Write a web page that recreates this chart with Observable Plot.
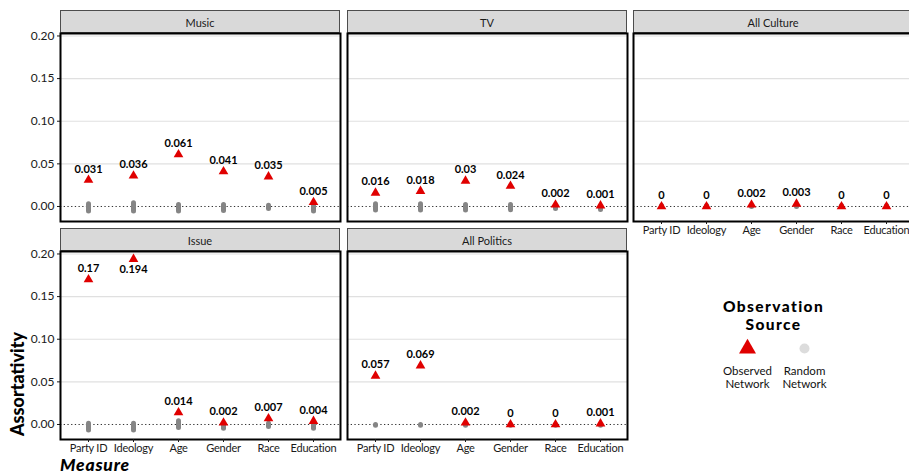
<!DOCTYPE html>
<html>
<head>
<meta charset="utf-8">
<script src="https://cdn.jsdelivr.net/npm/d3@7"></script>
<script src="https://cdn.jsdelivr.net/npm/@observablehq/plot@0.6"></script>
<style>
  html, body { margin: 0; padding: 0; background: #fff; }
  #chart { position: relative; width: 909px; height: 473px; overflow: hidden; font-family: Lato, sans-serif; }
  #chart > svg, #chart > div { position: absolute; }
  .xax text { letter-spacing: -0.25px; }
</style>
</head>
<body>
<div id="chart"></div>
<script>
// ---- data ----
const measures = ["Party ID", "Ideology", "Age", "Gender", "Race", "Education"];
const panelNames = ["Music", "TV", "All Culture", "Issue", "All Politics"];
const yTicks = [0, 0.05, 0.10, 0.15, 0.20];
const sources = ["Observed\nNetwork", "Random\nNetwork"];

// observed assortativity
const musicObserved = [0.031, 0.036, 0.061, 0.041, 0.035, 0.005];
const tvObserved = [0.016, 0.018, 0.03, 0.024, 0.002, 0.001];
const allCultureObserved = [0, 0, 0.002, 0.003, 0, 0];
const issueObserved = [0.17, 0.194, 0.014, 0.002, 0.007, 0.004];
const allPoliticsObserved = [0.057, 0.069, 0.002, 0, 0, 0.001];

// random-network spread (low / high)
const musicRandomLow = [-0.006, -0.006, -0.006, -0.0053, -0.003, -0.006];
const musicRandomHigh = [0.0026, 0.0038, 0.0018, 0.0018, 0.001, 0.001];
const tvRandomLow = [-0.0048, -0.0048, -0.0048, -0.0044, -0.003, -0.004];
const tvRandomHigh = [0.0026, 0.0026, 0.0018, 0.0018, -0.001, -0.001];
const allCultureRandomLow = [-0.0005, -0.0005, -0.0005, -0.0005, -0.0005, -0.0005];
const allCultureRandomHigh = [0.0005, 0.0005, 0.0005, 0.0005, 0.0005, 0.0005];
const issueRandomLow = [-0.0069, -0.0069, -0.004, -0.005, -0.003, -0.005];
const issueRandomHigh = [0.001, 0.001, 0.0037, -0.001, 0.001, -0.001];
const allPoliticsRandomLow = [-0.0015, -0.0015, -0.0015, -0.0015, -0.0015, -0.0015];
const allPoliticsRandomHigh = [-0.0006, -0.0006, -0.0006, -0.0006, -0.0006, -0.0006];

const chart = document.getElementById("chart");
const RED = "#e00000";
const GREY = "#858585";

function panel(name, observed, low, high, opts) {
  const ml = opts.showY ? 60 : 0;
  const mb = opts.showX ? 40 : 0;
  const data = measures.map((m, i) => ({measure: m, value: observed[i], lo: low[i], hi: high[i]}));
  const svg = Plot.plot({
    width: 280 + ml,
    height: 23 + 188 + mb,
    marginTop: 23,
    marginLeft: ml,
    marginRight: 0,
    marginBottom: mb,
    style: {fontFamily: "Lato, sans-serif", fontSize: "12px", color: "#1a1a1a", background: "transparent", overflow: "visible"},
    x: {type: "point", domain: measures, padding: 0.6, axis: null},
    y: {domain: [-0.0176, 0.2029], axis: opts.showY ? "left" : null, ticks: yTicks, tickFormat: d3.format(".2f"), tickSize: 3, tickPadding: 3, label: null},
    marks: [
      Plot.ruleY(yTicks.filter(d => d !== 0), {stroke: "#e0e0e0", strokeWidth: 1.1}),
      Plot.ruleY([0], {stroke: "#333", strokeWidth: 1, strokeDasharray: "1.3,2.4"}),
      Plot.ruleX(data, {x: "measure", y1: "lo", y2: "hi", stroke: GREY, strokeWidth: 5, strokeLinecap: "round"}),
      Plot.dot(data, {x: "measure", y: "value", symbol: "triangle", r: 3.6, fill: RED, stroke: null}),
      Plot.text(data.filter(d => d.value <= 0.18), {x: "measure", y: "value", text: d => String(d.value), dy: -11, fontWeight: "bold", fontSize: 11, fill: "#000"}),
      Plot.text(data.filter(d => d.value > 0.18), {x: "measure", y: "value", text: d => String(d.value), dy: 10, fontWeight: "bold", fontSize: 11, fill: "#000"}),
      Plot.frame({stroke: "#000", strokeWidth: 2}),
      opts.showX ? Plot.axisX({tickSize: 3, tickPadding: 2, label: null, fontSize: 11, className: "xax"}) : null
    ]
  });
  // facet strip
  const g = d3.select(svg).insert("g", ":first-child");
  g.append("rect")
    .attr("x", ml + 0.5).attr("y", 0.5).attr("width", 279).attr("height", 22)
    .attr("fill", "#d9d9d9").attr("stroke", "#4d4d4d").attr("stroke-width", 1);
  d3.select(svg).append("text")
    .attr("x", ml + 140).attr("y", 12.5)
    .attr("text-anchor", "middle").attr("dominant-baseline", "central")
    .attr("font-size", 11).attr("fill", "#1a1a1a").attr("font-family", "Lato, sans-serif")
    .text(name);
  svg.style.left = (opts.left - ml) + "px";
  svg.style.top = opts.top + "px";
  chart.appendChild(svg);
}

panel(panelNames[0], musicObserved, musicRandomLow, musicRandomHigh, {left: 60, top: 10, showY: true, showX: false});
panel(panelNames[1], tvObserved, tvRandomLow, tvRandomHigh, {left: 347, top: 10, showY: false, showX: false});
panel(panelNames[2], allCultureObserved, allCultureRandomLow, allCultureRandomHigh, {left: 633, top: 10, showY: false, showX: true});
panel(panelNames[3], issueObserved, issueRandomLow, issueRandomHigh, {left: 60, top: 227.5, showY: true, showX: true});
panel(panelNames[4], allPoliticsObserved, allPoliticsRandomLow, allPoliticsRandomHigh, {left: 347, top: 227.5, showY: false, showX: true});

// legend
const legend = Plot.plot({
  width: 200, height: 110, margin: 0,
  style: {fontFamily: "Lato, sans-serif", color: "#000", background: "transparent", overflow: "visible"},
  x: {type: "point", domain: sources, range: [73.7, 131], padding: 0, axis: null},
  marks: [
    Plot.text(["Observation\nSource"], {frameAnchor: "top", dy: 24.7, lineAnchor: "middle", lineHeight: 1.16, fontSize: 15.5, fontWeight: 900, fill: "#000"}),
    Plot.dot([sources[0]], {x: d => d, frameAnchor: "top", dy: 58, symbol: "triangle", r: 6.3, fill: RED, stroke: null}),
    Plot.dot([sources[1]], {x: d => d, frameAnchor: "top", dy: 58, symbol: "circle", r: 5, fill: "#dcdcdc", stroke: null}),
    Plot.text(sources, {x: d => d, text: d => d, frameAnchor: "top", dy: 87, lineAnchor: "middle", lineHeight: 1.06, fontSize: 11.5, fill: "#111"})
  ]
});
legend.querySelectorAll("text").forEach(t => { if (t.textContent.startsWith("Observation")) t.style.letterSpacing = "1.4px"; });
legend.style.left = "673px";
legend.style.top = "290px";
chart.appendChild(legend);

// axis titles
const titles = d3.select(chart).append("svg")
  .attr("width", 909).attr("height", 473)
  .style("left", "0px").style("top", "0px").style("pointer-events", "none");
titles.append("text")
  .attr("transform", "translate(24,384) rotate(-90)")
  .attr("text-anchor", "middle")
  .attr("font-family", "Lato, sans-serif").attr("font-size", 18).attr("font-weight", 900)
  .attr("fill", "#000")
  .text("Assortativity");
titles.append("text")
  .attr("x", 60).attr("y", 470.5)
  .attr("font-family", "Lato, sans-serif").attr("font-size", 17.5).attr("font-weight", 900).attr("font-style", "italic")
  .attr("letter-spacing", "0.8px")
  .attr("fill", "#000")
  .text("Measure");
</script>
</body>
</html>
